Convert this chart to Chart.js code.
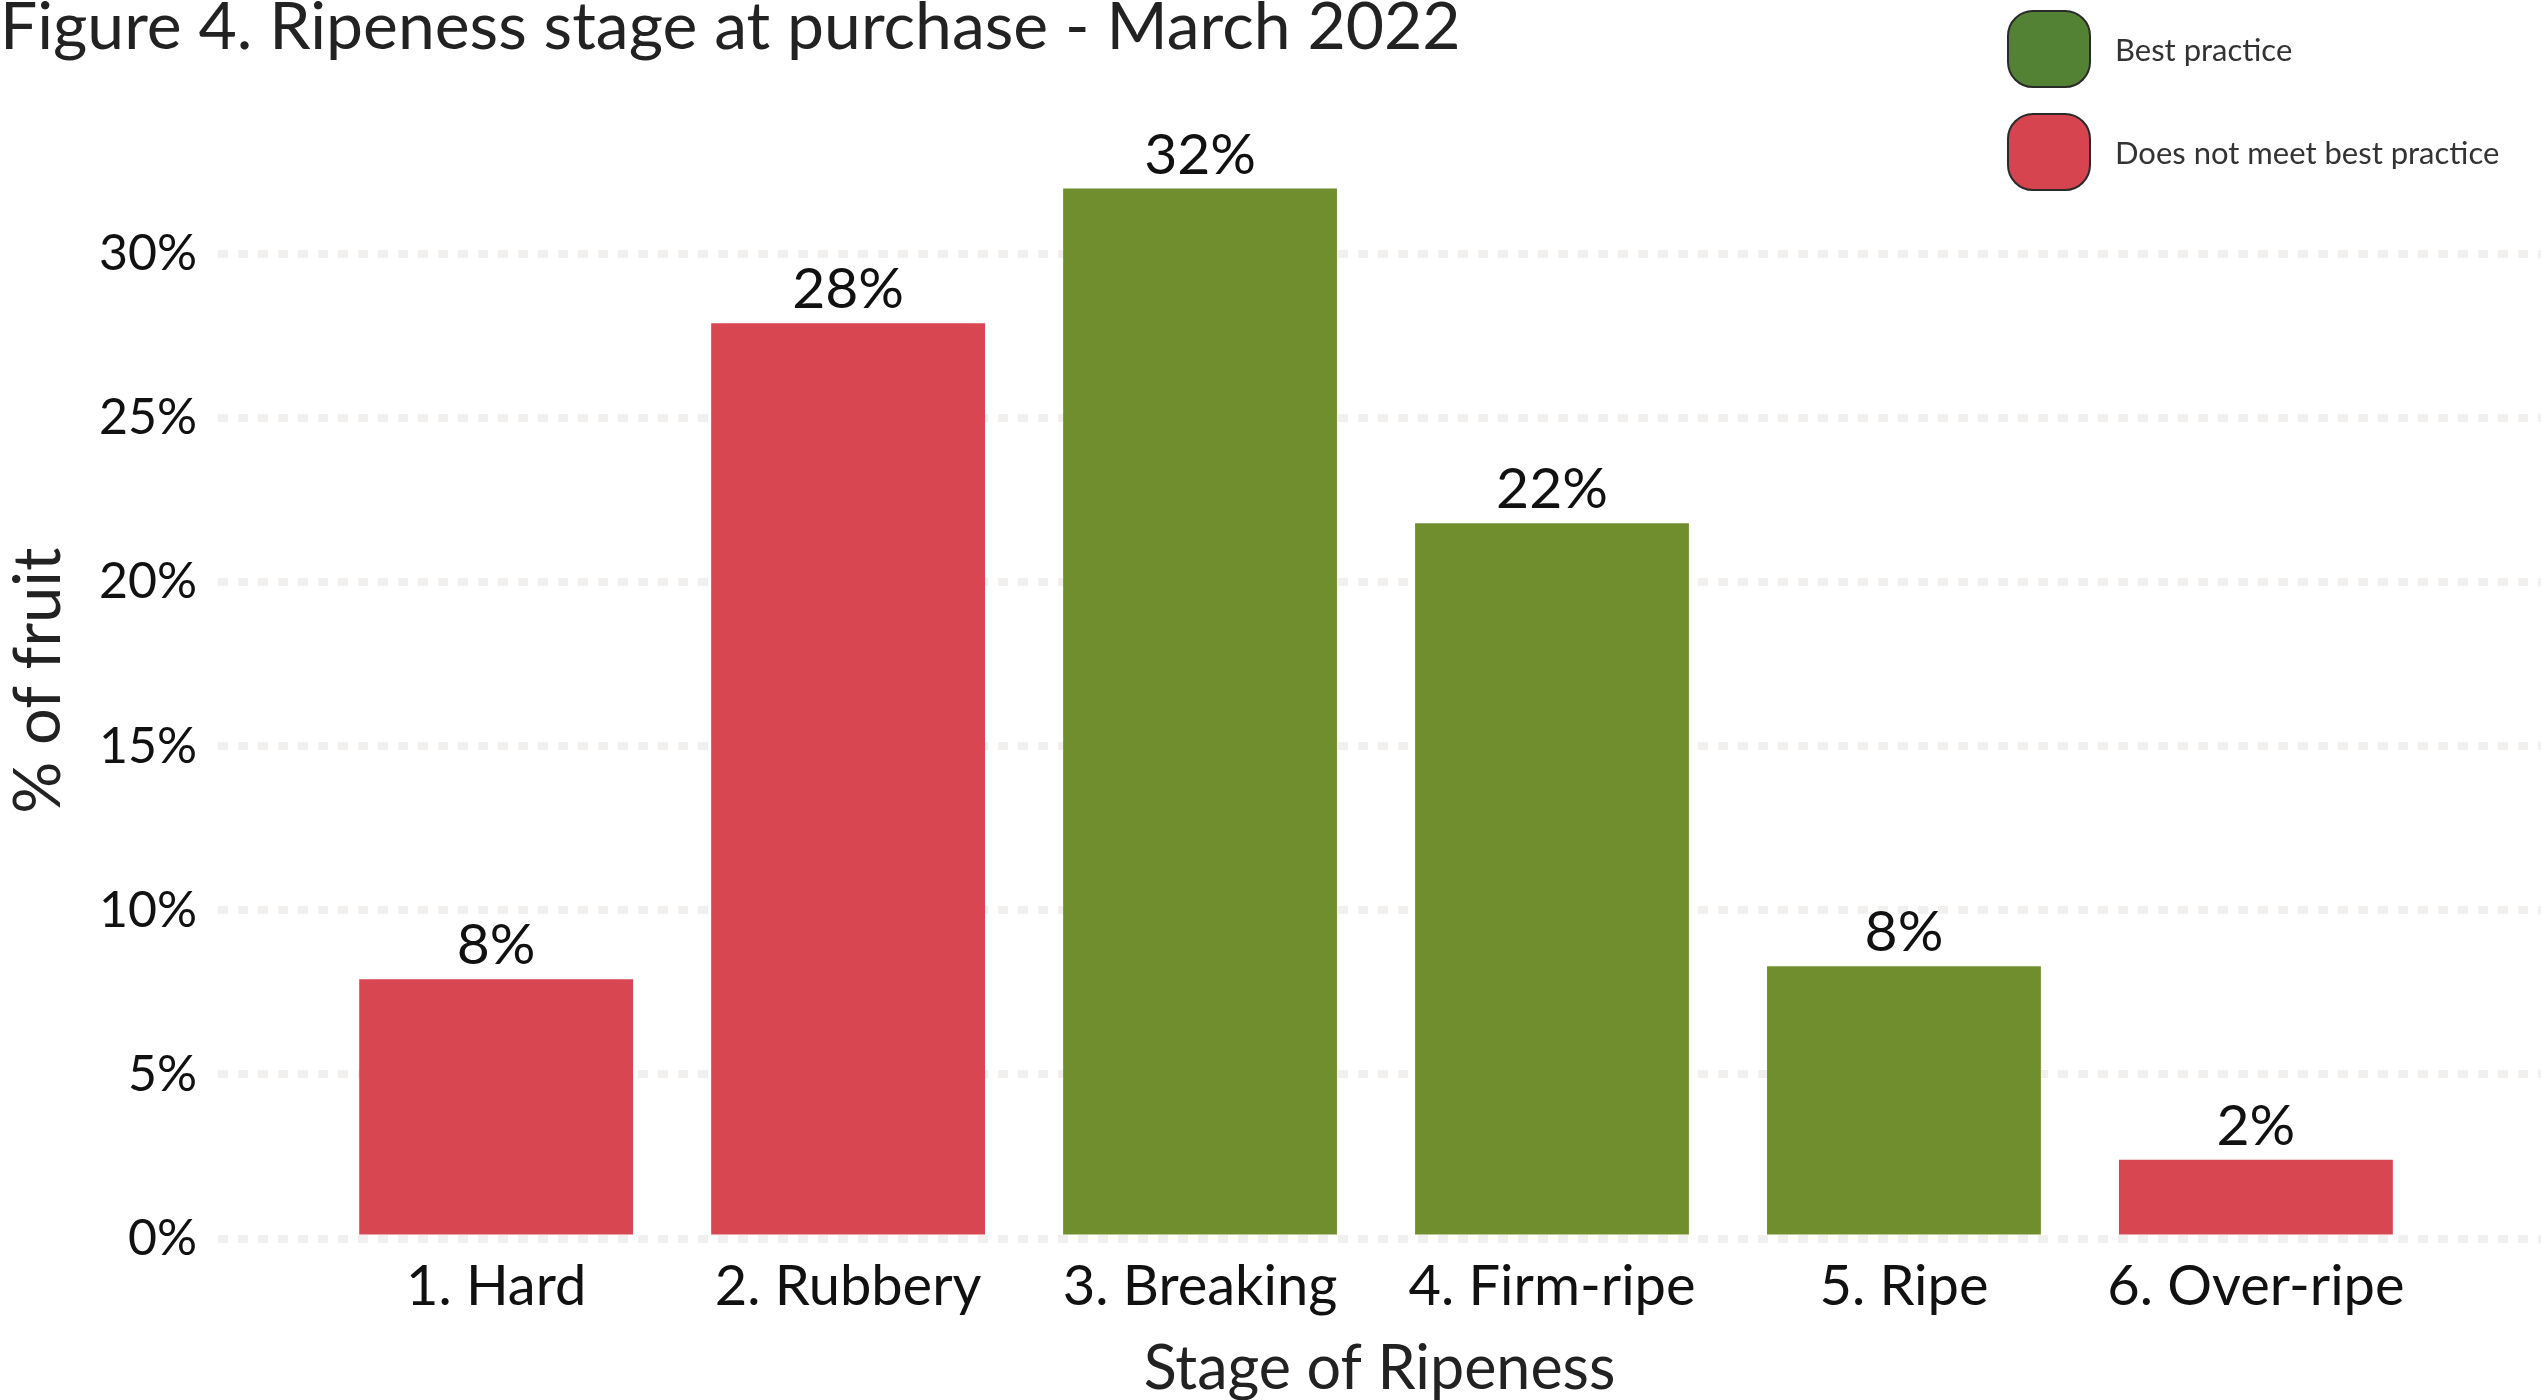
<!DOCTYPE html>
<html>
<head>
<meta charset="utf-8">
<script src="https://cdn.jsdelivr.net/npm/chart.js@4.4.1/dist/chart.umd.min.js"></script>
<style>
  body { margin: 0; background: #fff; }
  #wrap { position: relative; width: 2541px; height: 1400px; font-family: Lato, sans-serif; color: #222; }
  #titulo { position: absolute; left: 0; top: -16px; font-size: 66px; white-space: nowrap; }
  .leyenda { position: absolute; left: 2007px; display: flex; align-items: center; font-size: 31px; color: #333; }
  .caja { width: 84px; height: 78px; border: 2px solid #2a2a2a; border-radius: 26px; margin-right: 24px; box-sizing: border-box; }
</style>
</head>
<body>
<div id="wrap">
  <canvas id="myChart" width="2541" height="1400"></canvas>
  <div id="titulo">Figure 4. Ripeness stage at purchase - March 2022</div>
  <div class="leyenda" style="top:10px"><div class="caja" style="background:#548235"></div>Best practice</div>
  <div class="leyenda" style="top:113px"><div class="caja" style="background:#D6444F"></div>Does not meet best practice</div>
</div>
<script>
var etapas = ["1. Hard", "2. Rubbery", "3. Breaking", "4. Firm-ripe", "5. Ripe", "6. Over-ripe"];
var porcentajes = [7.9, 27.9, 32.0, 21.8, 8.3, 2.4];
var cumple = [false, false, true, true, true, false];
var ticksY = [0, 5, 10, 15, 20, 25, 30];

var rojo = "#D84652";
var verde = "#708E2E";

// etiquetas encima de cada barra
const etiquetasBarras = {
    id: "etiquetasBarras",
    afterDatasetsDraw(chart) {
        const ctx = chart.ctx;
        const meta = chart.getDatasetMeta(0);
        ctx.save();
        ctx.font = "57px Lato";
        ctx.fillStyle = "#111";
        ctx.textAlign = "center";
        ctx.textBaseline = "alphabetic";
        meta.data.forEach((barra, i) => {
            ctx.fillText(Math.round(porcentajes[i]) + "%", barra.x, barra.y - 15);
        });
        ctx.restore();
    }
};

new Chart("myChart", {
    type: "bar",
    data: {
        datasets: [{
            data: porcentajes.map((v, i) => ({ x: i + 1, y: v })),
            backgroundColor: cumple.map(c => c ? verde : rojo),
            categoryPercentage: 1,
            barPercentage: 0.778
        }]
    },
    options: {
        responsive: false,
        animation: false,
        layout: { padding: { left: 0, right: 0, top: 123, bottom: 0 } },
        plugins: {
            legend: { display: false },
            tooltip: { enabled: false }
        },
        scales: {
            x: {
                type: "linear",
                offset: false,
                min: 0.21,
                max: 6.81,
                afterBuildTicks: axis => { axis.ticks = etapas.map((e, i) => ({ value: i + 1 })); },
                grid: { display: false, drawTicks: false },
                border: { display: false },
                ticks: {
                    padding: 18,
                    autoSkip: false,
                    maxRotation: 0,
                    color: "#111",
                    font: { family: "Lato", size: 56, lineHeight: 1.08 },
                    callback: v => etapas[v - 1]
                },
                title: {
                    display: true,
                    text: "Stage of Ripeness",
                    color: "#222",
                    font: { family: "Lato", size: 61, lineHeight: 1.0 },
                    padding: { top: 4, bottom: 0 }
                }
            },
            y: {
                min: 0,
                max: 34,
                afterBuildTicks: axis => { axis.ticks = ticksY.map(v => ({ value: v })); },
                grid: {
                    color: "#F2F0EE",
                    lineWidth: 8,
                    drawTicks: false
                },
                border: { display: false, dash: [10, 10] },
                ticks: {
                    padding: 21,
                    color: "#111",
                    font: { family: "Lato", size: 50 },
                    callback: v => v + "%"
                },
                title: {
                    display: true,
                    text: "% of fruit",
                    color: "#222",
                    font: { family: "Lato", size: 65 },
                    padding: { top: 0, bottom: 0 }
                }
            }
        }
    },
    plugins: [etiquetasBarras]
});
</script>
</body>
</html>
